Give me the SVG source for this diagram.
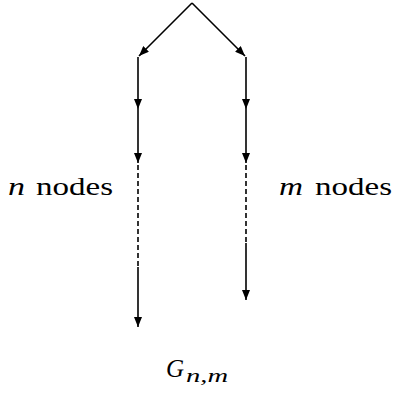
<svg xmlns="http://www.w3.org/2000/svg" width="394" height="393" viewBox="0 0 394 393">
<defs>
<marker id="ah" viewBox="0 0 10 8" refX="10" refY="4" markerWidth="10" markerHeight="8" markerUnits="userSpaceOnUse" orient="auto">
<path d="M0,0 L10,4 L0,8 Z" fill="#000"/>
</marker>
<style>
.e{stroke:#000;stroke-width:1.6;fill:none}
.a{marker-end:url(#ah)}
.d{stroke-dasharray:5,3}
.t{font-family:"Liberation Serif",serif;font-size:26px;fill:#000}
.i{font-style:italic}
</style>
</defs>
<rect width="394" height="393" fill="#fff"/>
<g id="connectors">
<path class="e a" d="M192,3 L139,56"/>
<path class="e a" d="M192,3 L245,56"/>
<path class="e a" d="M138,57 L138,109"/>
<path class="e a" d="M138,109 L138,163"/>
<path class="e d" d="M138,165 L138,267"/>
<path class="e a" d="M138,267 L138,327"/>
<path class="e a" d="M246,57 L246,109"/>
<path class="e a" d="M246,109 L246,163"/>
<path class="e d" d="M246,165 L246,243"/>
<path class="e a" d="M246,243 L246,300"/>
</g>
<g id="label-n">
<text class="t" y="195"><tspan class="i" x="8" textLength="17" lengthAdjust="spacingAndGlyphs">n</tspan><tspan x="36" textLength="77" lengthAdjust="spacingAndGlyphs">nodes</tspan></text>
</g>
<g id="label-m">
<text class="t" y="195"><tspan class="i" x="279" textLength="24" lengthAdjust="spacingAndGlyphs">m</tspan><tspan x="315" textLength="77" lengthAdjust="spacingAndGlyphs">nodes</tspan></text>
</g>
<g id="label-G">
<text class="t" y="377"><tspan class="i" x="166" font-size="25">G</tspan><tspan class="i" x="186" y="382" font-size="18" textLength="42" lengthAdjust="spacingAndGlyphs">n,m</tspan></text>
</g>
</svg>
